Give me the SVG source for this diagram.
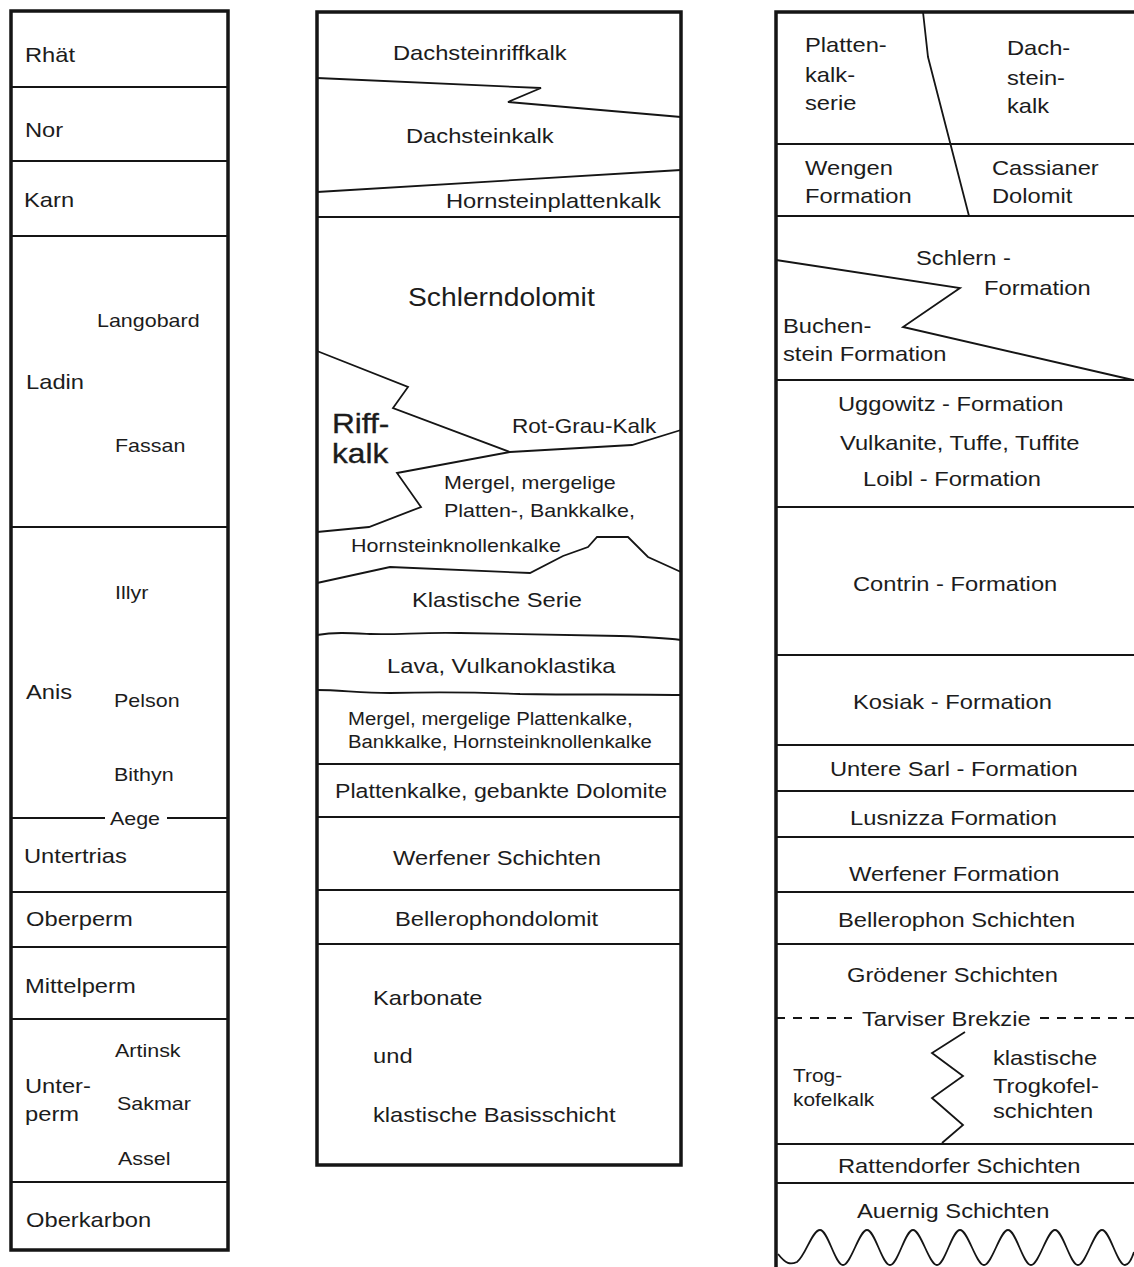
<svg xmlns="http://www.w3.org/2000/svg" width="1134" height="1267" viewBox="0 0 1134 1267">
<style>
.t{font-family:"Liberation Sans",Arial,Helvetica,sans-serif;font-size:21px;fill:#1c1c1c}
.s{font-size:19px}
.xs{font-size:18px}
.m{text-anchor:middle}
.b{stroke:#151515;stroke-width:3.5;fill:none}
.l{stroke:#151515;stroke-width:1.8;fill:none;stroke-linejoin:miter}
.d{stroke:#151515;stroke-width:1.8;fill:none;stroke-dasharray:9 8}
</style>
<rect width="1134" height="1267" fill="#fff"/>

<g id="col-left">
<rect class="b" x="11" y="11" width="217" height="1239"/>
<path class="l" d="M11 87H228M11 161H228M11 236H228M11 527H228M11 818H105M167 818H228M11 892H228M11 947H228M11 1019H228M11 1182H228"/>
<g class="t">
<text transform="translate(25 62) scale(1.13 1)">Rhät</text>
<text transform="translate(25 137) scale(1.13 1)">Nor</text>
<text transform="translate(24 207) scale(1.13 1)">Karn</text>
<text class="s" transform="translate(97 327) scale(1.13 1)">Langobard</text>
<text transform="translate(26 389) scale(1.13 1)">Ladin</text>
<text class="s" transform="translate(115 452) scale(1.13 1)">Fassan</text>
<text class="s" transform="translate(115 599) scale(1.13 1)">Illyr</text>
<text transform="translate(26 699) scale(1.13 1)">Anis</text>
<text class="s" transform="translate(114 707) scale(1.13 1)">Pelson</text>
<text class="s" transform="translate(114 781) scale(1.13 1)">Bithyn</text>
<text class="s m" transform="translate(135 825) scale(1.13 1)">Aege</text>
<text transform="translate(24 863) scale(1.13 1)">Untertrias</text>
<text transform="translate(26 926) scale(1.13 1)">Oberperm</text>
<text transform="translate(25 993) scale(1.13 1)">Mittelperm</text>
<text class="s" transform="translate(115 1057) scale(1.13 1)">Artinsk</text>
<text transform="translate(25 1093) scale(1.13 1)">Unter-</text>
<text transform="translate(25 1121) scale(1.13 1)">perm</text>
<text class="s" transform="translate(117 1110) scale(1.13 1)">Sakmar</text>
<text class="s" transform="translate(118 1165) scale(1.13 1)">Assel</text>
<text transform="translate(26 1227) scale(1.13 1)">Oberkarbon</text>
</g>
</g>

<g id="col-middle">
<rect class="b" x="317" y="12" width="364" height="1153"/>
<path class="l" d="M317 78L541 88L508 102L681 117"/>
<path class="l" d="M317 192L681 170"/>
<path class="l" d="M317 217H681"/>
<path class="l" d="M317 351L408 387L393 408L510 452L632 445L681 430"/>
<path class="l" d="M510 452L397 473L421 507L369 527L317 532"/>
<path class="l" d="M317 583L390 567L530 573L563 556L588 547L597 537L628 537L648 557L681 572"/>
<path class="l" d="M317 635C335 632 350 633 370 634C400 635 420 632 460 633C520 634 580 635 620 636C650 637 665 638 681 640"/>
<path class="l" d="M317 690C340 690 360 693 390 693C430 692 470 692 520 694C580 695 630 694 681 695"/>
<path class="l" d="M317 764H681M317 817H681M317 890H681M317 944H681"/>
<g class="t">
<text transform="translate(393 60) scale(1.13 1)">Dachsteinriffkalk</text>
<text transform="translate(406 143) scale(1.13 1)">Dachsteinkalk</text>
<text transform="translate(446 208) scale(1.13 1)">Hornsteinplattenkalk</text>
<text transform="translate(408 306) scale(1.13 1)" style="font-size:25px">Schlerndolomit</text>
<text transform="translate(332 433) scale(1.13 1)" style="font-size:28px;stroke:#1c1c1c;stroke-width:0.35">Riff-</text>
<text transform="translate(332 463) scale(1.13 1)" style="font-size:28px;stroke:#1c1c1c;stroke-width:0.35">kalk</text>
<text transform="translate(512 433) scale(1.13 1)" style="font-size:20px">Rot-Grau-Kalk</text>
<text class="s" transform="translate(444 489) scale(1.13 1)">Mergel, mergelige</text>
<text class="s" transform="translate(444 517) scale(1.13 1)">Platten-, Bankkalke,</text>
<text class="s" transform="translate(351 552) scale(1.13 1)">Hornsteinknollenkalke</text>
<text transform="translate(412 607) scale(1.13 1)">Klastische Serie</text>
<text transform="translate(387 673) scale(1.13 1)">Lava, Vulkanoklastika</text>
<text class="xs" transform="translate(348 725) scale(1.13 1)">Mergel, mergelige Plattenkalke,</text>
<text class="xs" transform="translate(348 748) scale(1.13 1)">Bankkalke, Hornsteinknollenkalke</text>
<text transform="translate(335 798) scale(1.13 1)" style="font-size:20.5px">Plattenkalke, gebankte Dolomite</text>
<text transform="translate(393 865) scale(1.13 1)">Werfener Schichten</text>
<text transform="translate(395 926) scale(1.13 1)">Bellerophondolomit</text>
<text transform="translate(373 1005) scale(1.13 1)">Karbonate</text>
<text transform="translate(373 1063) scale(1.13 1)">und</text>
<text transform="translate(373 1122) scale(1.13 1)">klastische Basisschicht</text>
</g>
</g>

<g id="col-right">
<path class="b" d="M776 1267V12H1134"/>
<path class="l" d="M923 12L928 57L969 216"/>
<path class="l" d="M776 144H1134M776 216H1134M776 380H1134M776 507H1134M776 655H1134M776 745H1134M776 791H1134M776 837H1134M776 892H1134M776 944H1134M776 1144H1134M776 1183H1134"/>
<path class="l" d="M776 260L960 288L903 327L1133 380"/>
<path class="d" d="M776 1018H852M1040 1018H1134"/>
<path class="l" d="M965 1032L932 1053L963 1076L932 1098L963 1125L942 1143"/>
<path class="l" d="M778 1254C786 1264 790 1265 797 1262C806 1255 812 1230 820 1230C828 1230 835 1265 843 1265C851 1265 859 1230 867 1230C875 1230 882 1265 890 1265C898 1265 905 1230 913 1230C921 1230 929 1265 937 1265C945 1265 952 1230 960 1230C968 1230 976 1265 984 1265C992 1265 1000 1230 1008 1230C1016 1230 1023 1265 1031 1265C1039 1265 1047 1230 1055 1230C1063 1230 1070 1265 1078 1265C1086 1265 1094 1230 1102 1230C1110 1230 1117 1265 1125 1265C1129 1265 1132 1258 1134 1252"/>
<g class="t">
<text transform="translate(805 52) scale(1.13 1)">Platten-</text>
<text transform="translate(805 82) scale(1.13 1)">kalk-</text>
<text transform="translate(805 110) scale(1.13 1)">serie</text>
<text transform="translate(1007 55) scale(1.13 1)">Dach-</text>
<text transform="translate(1007 85) scale(1.13 1)">stein-</text>
<text transform="translate(1007 113) scale(1.13 1)">kalk</text>
<text transform="translate(805 175) scale(1.13 1)">Wengen</text>
<text transform="translate(805 203) scale(1.13 1)">Formation</text>
<text transform="translate(992 175) scale(1.13 1)">Cassianer</text>
<text transform="translate(992 203) scale(1.13 1)">Dolomit</text>
<text transform="translate(916 265) scale(1.13 1)">Schlern -</text>
<text transform="translate(984 295) scale(1.13 1)">Formation</text>
<text transform="translate(783 333) scale(1.13 1)">Buchen-</text>
<text transform="translate(783 361) scale(1.13 1)">stein Formation</text>
<text transform="translate(838 411) scale(1.13 1)">Uggowitz - Formation</text>
<text transform="translate(840 450) scale(1.13 1)">Vulkanite, Tuffe, Tuffite</text>
<text transform="translate(863 486) scale(1.13 1)">Loibl - Formation</text>
<text transform="translate(853 591) scale(1.13 1)">Contrin - Formation</text>
<text transform="translate(853 709) scale(1.13 1)">Kosiak - Formation</text>
<text transform="translate(830 776) scale(1.13 1)">Untere Sarl - Formation</text>
<text transform="translate(850 825) scale(1.13 1)">Lusnizza Formation</text>
<text transform="translate(849 881) scale(1.13 1)">Werfener Formation</text>
<text transform="translate(838 927) scale(1.13 1)">Bellerophon Schichten</text>
<text transform="translate(847 982) scale(1.13 1)">Grödener Schichten</text>
<text transform="translate(862 1026) scale(1.13 1)">Tarviser Brekzie</text>
<text transform="translate(793 1082) scale(1.13 1)" style="font-size:18.5px">Trog-</text>
<text transform="translate(793 1106) scale(1.13 1)" style="font-size:18.5px">kofelkalk</text>
<text transform="translate(993 1065) scale(1.13 1)">klastische</text>
<text transform="translate(993 1093) scale(1.13 1)">Trogkofel-</text>
<text transform="translate(993 1118) scale(1.13 1)">schichten</text>
<text transform="translate(838 1173) scale(1.13 1)">Rattendorfer Schichten</text>
<text transform="translate(857 1218) scale(1.13 1)">Auernig Schichten</text>
</g>
</g>
</svg>
